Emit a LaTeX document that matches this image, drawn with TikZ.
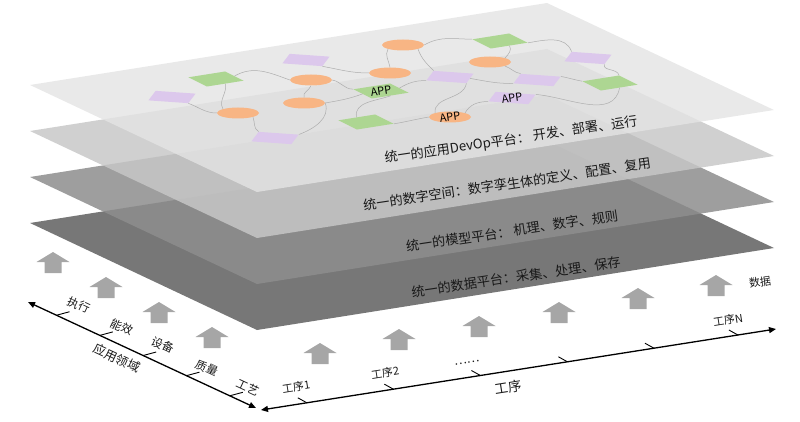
\documentclass[tikz,border=0pt]{standalone}
\usepackage{fontspec}
\setmainfont{Noto Sans CJK SC}
\usepackage{tikz}
\usetikzlibrary{arrows.meta, calc, shapes.geometric}
\definecolor{layerA}{HTML}{E4E4E4}
\definecolor{layerB}{HTML}{C7C7C7}
\definecolor{layerC}{HTML}{8E8E8E}
\definecolor{layerD}{HTML}{777777}
\definecolor{svcorange}{HTML}{F8B584}
\definecolor{svcgreen}{HTML}{ADD692}
\definecolor{svcpurple}{HTML}{DCC8EC}
\definecolor{flowgray}{HTML}{A6A6A6}

\begin{document}
\begin{tikzpicture}[x=1pt, y=1pt,
  svc/.style={ellipse, fill=svcorange, minimum width=42pt, minimum height=11pt, inner sep=0pt},
  gbox/.style={rectangle, fill=svcgreen, minimum width=37pt, minimum height=12pt, inner sep=0pt, rotate=9, xslant=-1.4},
  pbox/.style={rectangle, fill=svcpurple, minimum width=40pt, minimum height=10pt, inner sep=0pt, rotate=-4, xslant=0.65},
  wire/.style={draw=black!32, line width=0.5pt},
  applabel/.style={font=\fontsize{11}{12}\selectfont, rotate=8, inner sep=0pt},
  platform/.style={font=\fontsize{13.2}{15}\selectfont, rotate=8.5, text=black!90, inner sep=0pt},
  axislabel/.style={font=\fontsize{11.5}{13}\selectfont, rotate=-25, text=black!90, inner sep=0pt},
  steplabel/.style={font=\fontsize{11}{12}\selectfont, rotate=9, text=black!90, inner sep=0pt},
  axisline/.style={line width=1.3pt, {Triangle[length=7pt,width=6pt]}-{Triangle[length=7pt,width=6pt]}},
  tickmark/.style={line width=0.9pt}
]
  \useasboundingbox (0,0) rectangle (800,421);

  % the four platform layers, bottom one first
  \foreach \k/\col/\op in {3/layerD/1, 2/layerC/0.86, 1/layerB/0.84, 0/layerA/0.81}
    \fill[\col, fill opacity=\op, yshift=-46*\k] (30,336) -- (257,229) -- (774,311) -- (547,418) -- cycle;

  \node[platform] (devop) at (511,281) {统一的应用DevOp平台： 开发、部署、运行};
  \node[platform] (twin)  at (507,237) {统一的数字空间：数字孪生体的定义、配置、复用};
  \node[platform] (model) at (512,190) {统一的模型平台： 机理、数字、规则};
  \node[platform] (data)  at (516,144) {统一的数据平台：采集、处理、保存};

  % services on the top layer
  \node[svc] (o1) at (403,376) {};
  \node[svc] (o2) at (311,341) {};
  \node[svc] (o3) at (304,318) {};
  \node[svc] (o4) at (238,308) {};
  \node[svc] (o5) at (390,348) {};
  \node[svc] (o6) at (490,359) {};
  \node[svc] (o7) at (450,304) {};
  \node[gbox] (g1) at (216,342) {};
  \node[gbox] (g2) at (381,330) {};
  \node[gbox] (g3) at (366,299) {};
  \node[gbox] (g4) at (500,380) {};
  \node[gbox] (g5) at (610,338) {};
  \node[pbox] (p1) at (172,324) {};
  \node[pbox] (p2) at (306,361) {};
  \node[pbox] (p3) at (275,283) {};
  \node[pbox] (p4) at (450,344) {};
  \node[pbox] (p5) at (537,341) {};
  \node[pbox] (p6) at (588,363) {};
  \node[pbox] (p7) at (512,323) {};

  \draw[wire] (p1.south east) to[out=-20,in=180] (o4.west);
  \draw[wire] (g1.south) to[out=-80,in=120] (o4.north west);
  \draw[wire] (g1.east) to[out=30,in=160] (o2.west);
  \draw[wire] (o2.south) to[out=-110,in=110] (o3.north);
  \draw[wire] (o4.south east) to[out=-70,in=150] (p3.north west);
  \draw[wire] (o3.east) to[out=-70,in=20] (p3.north east);
  \draw[wire] (p2.south east) to[out=-10,in=180] (o5.west);
  \draw[wire] (o2.east) to[out=-10,in=180] (g2.north west);
  \draw[wire] (o3.east) to[out=10,in=200] (g2.west);
  \draw[wire] (o1.south west) to[out=-120,in=100] (o5.north);
  \draw[wire] (o1.east) to[out=30,in=180] (g4.north west);
  \draw[wire] (o1.south east) to[out=-70,in=135] (p4.north west);
  \draw[wire] (g4.south) to[out=-60,in=45] (o6.north east);
  \draw[wire] (g4.south east) to[out=10,in=110] (p6.north west);
  \draw[wire] (p6.south east) to[out=-110,in=100] (g5.north east);
  \draw[wire] (o6.south east) to[out=-20,in=170] (p5.north west);
  \draw[wire] (p5.north east) to[out=-10,in=170] (g5.north west);
  \draw[wire] (p4.east) to[out=-10,in=180] (p5.south west);
  \draw[wire] (p4.south east) to[out=-100,in=95] (o7.north west);
  \draw[wire] (o7.north east) to[out=60,in=180] (p7.south west);
  \draw[wire] (p7.north east) to[out=-5,in=-100] (g5.south);
  \draw[wire] (g2.east) to[out=30,in=180] (p4.south west);
  \draw[wire] (g2.south) to[out=-160,in=100] (g3.north);
  \draw[wire] (g3.south east) to[out=10,in=190] (o7.west);

  \node[applabel] (appg2) at (g2) {APP};
  \node[applabel] (appo7) at (o7) {APP};
  \node[applabel] (appp7) at (p7) {APP};

  % data flowing up
  \foreach \x/\y in {53/148, 106/123, 159/98, 212/73, 320/57, 399/71, 479/84, 559/98, 638/112, 716/125}
    \fill[flowgray] (\x-8.5,\y) -- (\x+8.5,\y) -- (\x+8.5,\y+11) -- (\x+16.5,\y+11)
      -- (\x,\y+21) -- (\x-16.5,\y+11) -- (\x-8.5,\y+11) -- cycle;

  % axes
  \coordinate (appTop) at (28,119);
  \coordinate (appEnd) at (256,13);
  \coordinate (procStart) at (261,11);
  \coordinate (procEnd) at (776,92);
  \draw[axisline] (appTop) -- (appEnd);
  \draw[axisline] (procStart) -- (procEnd);
  \foreach \f in {0.125,0.315,0.505,0.695,0.885}
    \draw[tickmark] ($(appTop)!\f!(appEnd)$) -- ++(13,3.5);
  \foreach \f in {0.089,0.257,0.426,0.595,0.763,0.926}
    \draw[tickmark] ($(procStart)!\f!(procEnd)$) -- ++(-9,5);

  \node[axislabel] (exec)    at (79,116) {执行};
  \node[axislabel] (energy)  at (122,94) {能效};
  \node[axislabel] (equip)   at (163,76) {设备};
  \node[axislabel] (quality) at (207,53) {质量};
  \node[axislabel] (craft)   at (248,34) {工艺};
  \node[axislabel, font=\fontsize{12.5}{14}\selectfont] (domain) at (117,63) {应用领域};

  \node[steplabel] (s1)    at (296,34)  {工序1};
  \node[steplabel] (s2)    at (385,48)  {工序2};
  \node[steplabel, font=\fontsize{12}{14}\selectfont] (sdots) at (467,58) {……};
  \node[steplabel] (sN)    at (728,101) {工序N};
  \node[steplabel, font=\fontsize{13.5}{15}\selectfont] (proc) at (508,34) {工序};
  \node[steplabel] (datalbl) at (760,139) {数据};
\end{tikzpicture}
\end{document}
